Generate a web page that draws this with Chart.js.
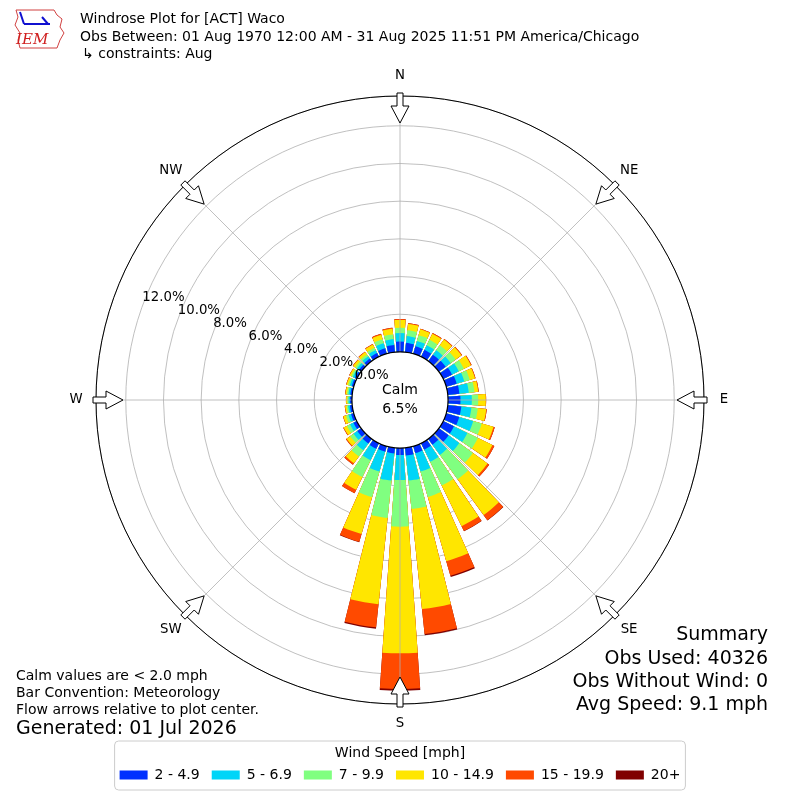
<!DOCTYPE html>
<html>
<head>
<meta charset="utf-8">
<title>Windrose Plot for [ACT] Waco</title>
<script src="https://cdn.jsdelivr.net/npm/chart.js@4.4.1/dist/chart.umd.min.js"></script>
<style>
  html, body { margin: 0; padding: 0; background: #fff; }
  #wrap { width: 800px; height: 800px; }
</style>
</head>
<body>
<div id="wrap"><canvas id="windrose"></canvas></div>
<script>
// direction bins (degrees, meteorological "from"), 10 degree bins
const directions = [0, 10, 20, 30, 40, 50, 60, 70, 80, 90, 100, 110, 120, 130, 140, 150, 160, 170,
                    180, 190, 200, 210, 220, 230, 240, 250, 260, 270, 280, 290, 300, 310, 320, 330, 340, 350];

const speedBins = ['2 - 4.9', '5 - 6.9', '7 - 9.9', '10 - 14.9', '15 - 19.9', '20+'];
const speedColors = ['#0030ff', '#00d5f8', '#80ff80', '#ffe600', '#ff4a00', '#800000'];

// percent of all obs, per direction, one array per speed bin
const spd2to5 = [0.55, 0.50, 0.41, 0.41, 0.42, 0.45, 0.52, 0.58, 0.62, 0.66, 0.72, 0.72, 0.64, 0.64, 0.38, 0.38, 0.38, 0.41,
                 0.37, 0.30, 0.30, 0.33, 0.30, 0.25, 0.20, 0.15, 0.12, 0.10, 0.10, 0.11, 0.12, 0.15, 0.17, 0.22, 0.30, 0.38];
const spd5to7 = [0.45, 0.36, 0.30, 0.27, 0.30, 0.33, 0.40, 0.42, 0.50, 0.60, 0.54, 0.77, 0.79, 0.70, 0.67, 0.72, 1.02, 1.34,
                 1.33, 1.45, 1.10, 0.67, 0.45, 0.25, 0.20, 0.15, 0.10, 0.08, 0.10, 0.11, 0.12, 0.13, 0.15, 0.18, 0.28, 0.32];
const spd7to10 = [0.28, 0.31, 0.32, 0.32, 0.32, 0.32, 0.30, 0.30, 0.30, 0.34, 0.34, 0.47, 0.62, 0.89, 1.60, 1.40, 1.40, 1.52,
                  2.47, 1.99, 1.41, 1.00, 0.40, 0.22, 0.18, 0.13, 0.08, 0.06, 0.08, 0.09, 0.09, 0.11, 0.12, 0.13, 0.22, 0.25];
const spd10to15 = [0.42, 0.34, 0.32, 0.36, 0.37, 0.38, 0.42, 0.29, 0.20, 0.40, 0.45, 0.65, 0.86, 0.96, 2.35, 2.40, 3.55, 5.33,
                   6.72, 4.61, 2.04, 0.75, 0.45, 0.23, 0.19, 0.15, 0.08, 0.07, 0.08, 0.09, 0.10, 0.13, 0.15, 0.19, 0.25, 0.30];
const spd15to20 = [0.05, 0.04, 0.03, 0.04, 0.04, 0.04, 0.04, 0.03, 0.03, 0.02, 0.03, 0.07, 0.11, 0.11, 0.33, 0.28, 0.80, 1.33,
                   1.89, 1.23, 0.43, 0.20, 0.10, 0.05, 0.03, 0.02, 0.02, 0.01, 0.02, 0.02, 0.02, 0.03, 0.03, 0.03, 0.05, 0.05];
const spd20plus = [0, 0, 0, 0, 0, 0, 0, 0, 0, 0, 0, 0, 0, 0, 0.02, 0.02, 0.07, 0.07,
                   0.10, 0.07, 0.02, 0, 0, 0, 0, 0, 0, 0, 0, 0, 0, 0, 0, 0, 0, 0];

const calmPct = 6.5;
const tickValues = [0, 2, 4, 6, 8, 10, 12];
const rMax = 13.58;
const rMin = -2.55;     // negative min leaves the hole for the calm circle
const barAngle = 8;
const gapAngle = 2;

const compass = [['N', 0], ['NE', 45], ['E', 90], ['SE', 135], ['S', 180], ['SW', 225], ['W', 270], ['NW', 315]];

Chart.defaults.font.family = 'DejaVu Sans';
Chart.defaults.color = '#000';

// each direction becomes a bar slot plus an empty gap slot
const labels = [];
directions.forEach(d => { labels.push(d + '°'); labels.push(''); });

const bins = [spd2to5, spd5to7, spd7to10, spd10to15, spd15to20, spd20plus];
let running = directions.map(() => 0);
const datasets = bins.map((bin, k) => {
    running = running.map((v, i) => v + bin[i]);
    const data = [];
    running.forEach(v => { data.push(Math.round(v * 1000) / 1000); data.push(0); });
    return {
        label: speedBins[k],
        data: data,
        backgroundColor: speedColors[k],
        borderWidth: 0,
        angle: data.map((_, i) => i % 2 ? gapAngle : barAngle)
    };
});

function text(ctx, str, x, y, size, align) {
    ctx.font = size + 'px "DejaVu Sans"';
    ctx.textAlign = align || 'left';
    ctx.textBaseline = 'middle';
    ctx.fillText(str, x, y);
}

const decor = {
    id: 'decor',
    afterDraw(chart) {
        const ctx = chart.ctx;
        const s = chart.scales.r;
        const cx = s.xCenter, cy = s.yCenter, R = s.drawingArea;
        const rad = d => (d - 90) * Math.PI / 180;
        ctx.save();

        // spokes
        ctx.strokeStyle = '#b0b0b0';
        ctx.lineWidth = 0.8;
        compass.forEach(([, d]) => {
            ctx.beginPath();
            ctx.moveTo(cx, cy);
            ctx.lineTo(cx + R * Math.cos(rad(d)), cy + R * Math.sin(rad(d)));
            ctx.stroke();
        });

        // outer frame
        ctx.strokeStyle = '#000';
        ctx.lineWidth = 1;
        ctx.beginPath();
        ctx.arc(cx, cy, R, 0, Math.PI * 2);
        ctx.stroke();

        // calm hole
        const r0 = s.getDistanceFromCenterForValue(0);
        ctx.fillStyle = '#fff';
        ctx.beginPath();
        ctx.arc(cx, cy, r0, 0, Math.PI * 2);
        ctx.fill();
        ctx.lineWidth = 1.2;
        ctx.stroke();

        ctx.fillStyle = '#000';
        text(ctx, 'Calm', cx, cy - 10, 14, 'center');
        text(ctx, calmPct.toFixed(1) + '%', cx, cy + 9, 14, 'center');

        // radial tick labels
        const a = 20 * Math.PI / 180;
        tickValues.forEach(v => {
            const r = s.getDistanceFromCenterForValue(v);
            text(ctx, v.toFixed(1) + '%', cx - r * Math.cos(a), cy - r * Math.sin(a) - 8.5, 13.3, 'left');
        });

        // flow arrows + compass labels
        compass.forEach(([name, d]) => {
            const ux = Math.cos(rad(d)), uy = Math.sin(rad(d));
            const px = -uy, py = ux;
            const pts = [[0, -3], [13, -3], [13, -9], [30, 0], [13, 9], [13, 3], [0, 3]];
            ctx.beginPath();
            pts.forEach(([u, w], i) => {
                const rr = R + 3 - u;
                const x = cx + rr * ux + w * px, y = cy + rr * uy + w * py;
                if (i === 0) ctx.moveTo(x, y); else ctx.lineTo(x, y);
            });
            ctx.closePath();
            ctx.fillStyle = '#fff';
            ctx.fill();
            ctx.strokeStyle = '#000';
            ctx.lineWidth = 1;
            ctx.stroke();
            ctx.fillStyle = '#000';
            text(ctx, name, cx + (R + 20) * ux, cy + (R + 20) * uy, 13.3, 'center');
        });

        // header
        ctx.strokeStyle = '#d04040';
        ctx.lineWidth = 1;
        ctx.beginPath();
        [[16, 10], [54, 10], [57, 15], [62, 19], [60, 27], [64, 33], [60, 40], [57, 48], [20, 48], [18, 40], [20, 33], [15, 25], [18, 17]]
            .forEach(([x, y], i) => i ? ctx.lineTo(x, y) : ctx.moveTo(x, y));
        ctx.closePath();
        ctx.stroke();
        ctx.strokeStyle = '#1010d0';
        ctx.lineWidth = 2;
        ctx.beginPath();
        ctx.moveTo(24, 24); ctx.lineTo(50, 24);
        ctx.moveTo(20, 12); ctx.lineTo(24, 24);
        ctx.moveTo(42, 17); ctx.lineTo(48, 24);
        ctx.stroke();
        ctx.fillStyle = '#d02020';
        ctx.font = 'italic 15px "DejaVu Serif"';
        ctx.textAlign = 'left';
        ctx.textBaseline = 'alphabetic';
        ctx.fillText('IEM', 16, 44);

        ctx.fillStyle = '#000';
        text(ctx, 'Windrose Plot for [ACT] Waco', 80, 19, 14);
        text(ctx, 'Obs Between: 01 Aug 1970 12:00 AM - 31 Aug 2025 11:51 PM America/Chicago', 80, 37, 14);
        text(ctx, '↳ constraints: Aug', 82, 54, 14);

        // footer notes
        text(ctx, 'Calm values are < 2.0 mph', 16, 676, 14);
        text(ctx, 'Bar Convention: Meteorology', 16, 693, 14);
        text(ctx, 'Flow arrows relative to plot center.', 16, 710, 14);
        text(ctx, 'Generated: 01 Jul 2026', 16, 729, 19);

        text(ctx, 'Summary', 768, 635, 19, 'right');
        text(ctx, 'Obs Used: 40326', 768, 659, 19, 'right');
        text(ctx, 'Obs Without Wind: 0', 768, 682, 19, 'right');
        text(ctx, 'Avg Speed: 9.1 mph', 768, 705, 19, 'right');

        // legend frame
        const lg = chart.legend;
        const hb = lg.legendHitBoxes;
        if (hb && hb.length) {
            const x0 = Math.min(...hb.map(b => b.left)) - 5;
            const x1 = Math.max(...hb.map(b => b.left + b.width)) + 5;
            ctx.strokeStyle = '#cccccc';
            ctx.lineWidth = 1;
            ctx.beginPath();
            ctx.roundRect(x0, 741, x1 - x0, 49, 4);
            ctx.stroke();
        }
        ctx.restore();
    }
};

new Chart(document.getElementById('windrose'), {
    type: 'polarArea',
    data: { labels: labels, datasets: datasets },
    options: {
        responsive: true,
        maintainAspectRatio: false,
        animation: false,
        events: [],
        layout: { padding: { top: 96, bottom: 8, left: 0, right: 0 } },
        scales: {
            r: {
                min: rMin,
                max: rMax,
                startAngle: -barAngle / 2,
                z: 1,
                ticks: { display: false },
                afterBuildTicks: axis => { axis.ticks = tickValues.concat([rMax]).map(v => ({ value: v })); },
                grid: { circular: true, color: '#b0b0b0', lineWidth: 0.8 },
                angleLines: { display: false },
                pointLabels: { display: false }
            }
        },
        plugins: {
            tooltip: { enabled: false },
            legend: {
                position: 'bottom',
                title: {
                    display: true,
                    text: 'Wind Speed [mph]',
                    color: '#000',
                    font: { size: 14, lineHeight: 0.7 },
                    padding: { top: 42, bottom: 0 }
                },
                labels: {
                    boxWidth: 28,
                    boxHeight: 9,
                    padding: 12,
                    color: '#000',
                    font: { size: 14 },
                    generateLabels: chart => chart.data.datasets.map((ds, i) => ({
                        text: ds.label,
                        fillStyle: ds.backgroundColor,
                        strokeStyle: ds.backgroundColor,
                        lineWidth: 0,
                        hidden: false,
                        datasetIndex: i
                    }))
                }
            }
        }
    },
    plugins: [decor]
});
</script>
</body>
</html>
